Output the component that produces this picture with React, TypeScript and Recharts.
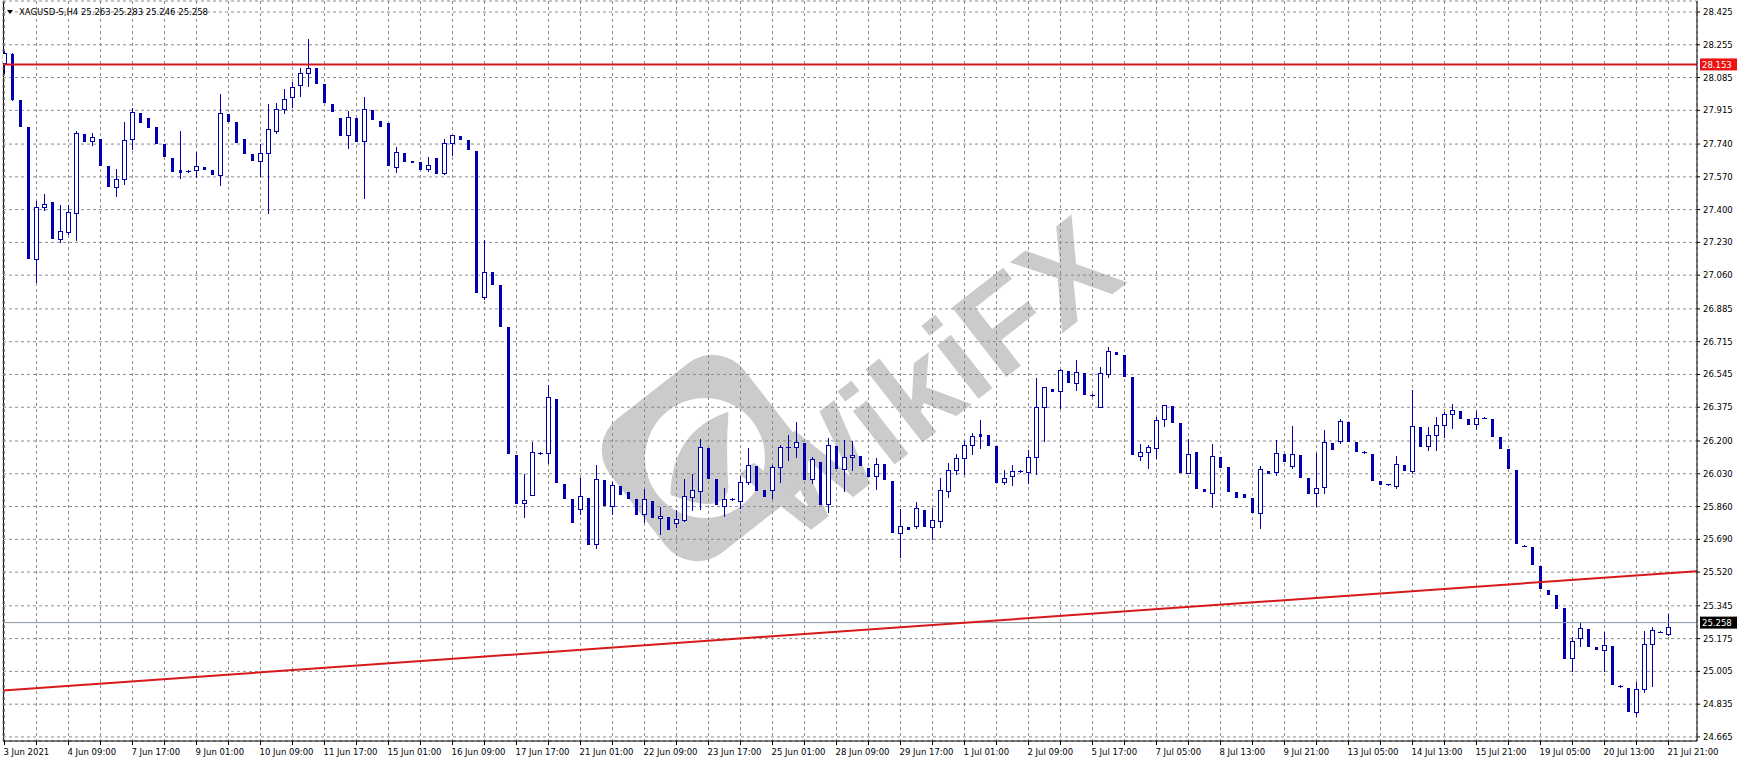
import React from 'react';
import { ComposedChart, Bar, XAxis, YAxis, CartesianGrid, ReferenceLine } from 'recharts';

const CHART_W = 1741;
const CHART_H = 764;
const NAVY = '#0000b0';
const RED = '#d7191c';
const FONT = 'DejaVu Sans, Verdana, sans-serif';

// H4 candles, 3 Jun 2021 01:00 .. 21 Jul 2021 21:00
const opens = [
  28.159, 28.207, 27.969, 27.827, 27.145, 27.415, 27.440, 27.249, 27.284, 27.381,
  27.791, 27.754, 27.766, 27.626, 27.519, 27.557, 27.765, 27.899, 27.874, 27.827,
  27.740, 27.668, 27.604, 27.599, 27.604, 27.621, 27.604, 27.581, 27.894, 27.853,
  27.766, 27.687, 27.654, 27.692, 27.809, 27.923, 27.986, 28.045, 28.110, 28.133,
  28.052, 27.948, 27.875, 27.785, 27.875, 27.754, 27.917, 27.860, 27.849, 27.623,
  27.694, 27.650, 27.645, 27.609, 27.668, 27.588, 27.744, 27.782, 27.761, 27.704,
  26.945, 27.075, 27.009, 26.790, 26.126, 25.877, 25.918, 26.140, 26.136, 26.416,
  25.975, 25.899, 25.846, 25.904, 25.664, 25.998, 25.864, 25.965, 25.935, 25.899,
  25.820, 25.889, 25.799, 25.806, 25.776, 25.790, 25.911, 25.939, 26.164, 26.003,
  25.864, 25.899, 25.890, 25.986, 26.070, 25.946, 25.944, 26.063, 26.167, 26.167,
  26.190, 26.001, 26.089, 25.872, 26.174, 26.056, 26.115, 26.122, 26.058, 26.018,
  26.081, 25.991, 25.721, 25.755, 25.761, 25.840, 25.752, 25.787, 25.942, 26.048,
  26.112, 26.181, 26.235, 26.231, 26.174, 25.986, 26.018, 26.046, 26.041, 26.115,
  26.375, 26.470, 26.458, 26.563, 26.499, 26.553, 26.438, 26.378, 26.546, 26.660,
  26.646, 26.532, 26.124, 26.144, 26.165, 26.312, 26.381, 26.293, 26.035, 26.143,
  25.951, 25.932, 26.118, 26.065, 25.935, 25.925, 25.904, 25.825, 26.044, 26.038,
  26.133, 26.072, 26.126, 26.010, 25.929, 25.960, 26.188, 26.200, 26.297, 26.193,
  26.143, 26.133, 25.992, 25.975, 25.968, 26.074, 26.046, 26.271, 26.172, 26.229,
  26.281, 26.338, 26.354, 26.314, 26.287, 26.321, 26.314, 26.221, 26.158, 26.050,
  25.657, 25.650, 25.552, 25.427, 25.401, 25.334, 25.073, 25.177, 25.226, 25.132,
  25.114, 25.135, 24.929, 24.917, 24.795, 24.912, 25.145, 25.211, 25.200,
];
const highs = [
  28.224, 28.210, 27.969, 27.827, 27.445, 27.481, 27.440, 27.424, 27.424, 27.810,
  27.791, 27.796, 27.766, 27.626, 27.611, 27.854, 27.926, 27.899, 27.874, 27.827,
  27.740, 27.668, 27.808, 27.603, 27.697, 27.621, 27.604, 28.000, 27.894, 27.853,
  27.766, 27.687, 27.740, 27.948, 27.955, 28.024, 28.062, 28.133, 28.285, 28.133,
  28.052, 27.948, 27.875, 27.911, 27.875, 27.983, 27.917, 27.860, 27.849, 27.723,
  27.694, 27.652, 27.645, 27.671, 27.668, 27.768, 27.785, 27.782, 27.761, 27.704,
  27.242, 27.075, 27.009, 26.790, 26.126, 26.029, 26.195, 26.145, 26.489, 26.416,
  25.975, 25.899, 26.010, 25.904, 26.074, 25.998, 25.987, 25.965, 25.935, 25.899,
  25.949, 25.889, 25.859, 25.806, 25.842, 26.003, 26.027, 26.209, 26.164, 26.003,
  25.955, 25.903, 26.020, 26.162, 26.070, 25.946, 26.075, 26.179, 26.231, 26.297,
  26.190, 26.115, 26.089, 26.214, 26.174, 26.205, 26.201, 26.122, 26.058, 26.112,
  26.081, 25.991, 25.846, 25.755, 25.885, 25.840, 25.851, 26.006, 26.087, 26.132,
  26.201, 26.243, 26.309, 26.231, 26.174, 26.048, 26.074, 26.050, 26.153, 26.525,
  26.478, 26.470, 26.572, 26.563, 26.620, 26.553, 26.442, 26.585, 26.689, 26.660,
  26.646, 26.532, 26.184, 26.178, 26.323, 26.385, 26.381, 26.293, 26.210, 26.143,
  25.951, 26.184, 26.118, 26.065, 25.935, 25.925, 25.904, 26.070, 26.044, 26.205,
  26.133, 26.278, 26.126, 26.010, 26.136, 26.255, 26.188, 26.312, 26.297, 26.193,
  26.147, 26.133, 25.992, 25.979, 26.122, 26.074, 26.464, 26.271, 26.274, 26.323,
  26.350, 26.393, 26.354, 26.314, 26.354, 26.325, 26.314, 26.221, 26.158, 26.050,
  25.661, 25.650, 25.552, 25.427, 25.401, 25.334, 25.182, 25.257, 25.226, 25.132,
  25.208, 25.135, 24.933, 24.917, 24.952, 25.214, 25.235, 25.215, 25.301,
];
const lows = [
  28.107, 27.970, 27.834, 27.149, 27.026, 27.398, 27.253, 27.230, 27.274, 27.242,
  27.756, 27.735, 27.633, 27.524, 27.472, 27.531, 27.714, 27.856, 27.830, 27.747,
  27.680, 27.602, 27.566, 27.595, 27.569, 27.612, 27.586, 27.529, 27.861, 27.752,
  27.695, 27.657, 27.574, 27.381, 27.796, 27.903, 27.934, 27.991, 28.041, 28.058,
  27.960, 27.913, 27.789, 27.721, 27.758, 27.462, 27.868, 27.835, 27.633, 27.593,
  27.654, 27.645, 27.612, 27.602, 27.592, 27.585, 27.683, 27.768, 27.716, 26.974,
  26.935, 27.016, 26.798, 26.136, 25.880, 25.807, 25.918, 26.135, 26.088, 25.986,
  25.906, 25.781, 25.821, 25.667, 25.643, 25.868, 25.820, 25.927, 25.906, 25.823,
  25.781, 25.806, 25.716, 25.745, 25.752, 25.785, 25.842, 25.846, 26.010, 25.875,
  25.812, 25.895, 25.851, 25.975, 25.946, 25.916, 25.906, 25.987, 26.101, 26.115,
  26.004, 25.984, 25.875, 25.833, 26.061, 25.942, 26.049, 26.077, 26.020, 25.949,
  26.001, 25.726, 25.597, 25.742, 25.750, 25.759, 25.692, 25.755, 25.911, 26.029,
  26.029, 26.132, 26.162, 26.181, 25.989, 25.978, 25.973, 26.040, 25.981, 26.027,
  26.201, 26.458, 26.369, 26.504, 26.464, 26.445, 26.434, 26.378, 26.530, 26.653,
  26.539, 26.134, 26.101, 26.061, 26.113, 26.279, 26.300, 26.041, 26.032, 25.958,
  25.942, 25.859, 26.066, 25.941, 25.911, 25.911, 25.832, 25.750, 26.035, 26.025,
  26.098, 26.061, 26.015, 25.932, 25.864, 25.932, 26.160, 26.191, 26.201, 26.150,
  26.139, 26.000, 25.978, 25.971, 25.955, 26.051, 26.032, 26.176, 26.152, 26.152,
  26.221, 26.269, 26.321, 26.290, 26.264, 26.317, 26.227, 26.165, 26.062, 25.669,
  25.653, 25.560, 25.439, 25.408, 25.335, 25.076, 25.007, 25.138, 25.138, 25.120,
  25.007, 24.938, 24.925, 24.799, 24.775, 24.896, 24.929, 25.207, 25.192,
];
const closes = [
  28.211, 27.974, 27.834, 27.149, 27.415, 27.429, 27.253, 27.288, 27.386, 27.796,
  27.756, 27.778, 27.633, 27.524, 27.557, 27.760, 27.905, 27.856, 27.830, 27.747,
  27.680, 27.602, 27.597, 27.599, 27.625, 27.612, 27.586, 27.900, 27.861, 27.752,
  27.695, 27.657, 27.692, 27.817, 27.923, 27.972, 28.038, 28.110, 28.136, 28.058,
  27.960, 27.913, 27.789, 27.879, 27.758, 27.920, 27.868, 27.835, 27.633, 27.697,
  27.654, 27.647, 27.612, 27.630, 27.592, 27.744, 27.785, 27.768, 27.716, 26.974,
  27.078, 27.016, 26.798, 26.136, 25.880, 25.892, 26.141, 26.138, 26.427, 25.986,
  25.906, 25.781, 25.913, 25.667, 26.001, 25.868, 25.970, 25.927, 25.906, 25.823,
  25.898, 25.806, 25.811, 25.745, 25.794, 25.913, 25.944, 26.167, 26.010, 25.875,
  25.898, 25.899, 25.986, 26.074, 25.946, 25.916, 26.063, 26.167, 26.167, 26.193,
  26.004, 26.105, 25.875, 26.178, 26.061, 26.117, 26.127, 26.077, 26.020, 26.082,
  26.001, 25.726, 25.761, 25.742, 25.851, 25.759, 25.789, 25.944, 26.048, 26.110,
  26.181, 26.224, 26.227, 26.181, 25.989, 26.006, 26.046, 26.044, 26.115, 26.375,
  26.478, 26.458, 26.567, 26.504, 26.556, 26.445, 26.438, 26.551, 26.665, 26.653,
  26.539, 26.134, 26.141, 26.169, 26.307, 26.385, 26.300, 26.041, 26.131, 25.958,
  25.942, 26.120, 26.066, 25.941, 25.911, 25.911, 25.832, 26.053, 26.035, 26.136,
  26.098, 26.131, 26.015, 25.932, 25.955, 26.195, 26.160, 26.302, 26.201, 26.150,
  26.143, 26.000, 25.978, 25.975, 26.079, 26.051, 26.276, 26.176, 26.229, 26.281,
  26.340, 26.359, 26.321, 26.290, 26.318, 26.321, 26.227, 26.165, 26.062, 25.669,
  25.657, 25.560, 25.439, 25.408, 25.335, 25.076, 25.161, 25.228, 25.138, 25.120,
  25.140, 24.938, 24.929, 24.799, 24.912, 25.145, 25.218, 25.211, 25.237,
];

const timeLabels = [
  '3 Jun 2021', '4 Jun 09:00', '7 Jun 17:00', '9 Jun 01:00', '10 Jun 09:00', '11 Jun 17:00',
  '15 Jun 01:00', '16 Jun 09:00', '17 Jun 17:00', '21 Jun 01:00', '22 Jun 09:00', '23 Jun 17:00',
  '25 Jun 01:00', '28 Jun 09:00', '29 Jun 17:00', '1 Jul 01:00', '2 Jul 09:00', '5 Jul 17:00',
  '7 Jul 05:00', '8 Jul 13:00', '9 Jul 21:00', '13 Jul 05:00', '14 Jul 13:00', '15 Jul 21:00',
  '19 Jul 05:00', '20 Jul 13:00', '21 Jul 21:00',
];

const priceTicks = [
  28.425, 28.255, 28.085, 27.915, 27.74, 27.57, 27.4, 27.23, 27.06, 26.885, 26.715, 26.545,
  26.375, 26.2, 26.03, 25.86, 25.69, 25.52, 25.345, 25.175, 25.005, 24.835, 24.665,
];

const title = 'XAGUSD-S,H4  25.263 25.283 25.246 25.258';
const resistanceLevel = 28.153;
const bidLevel = 25.258;
const trendStart = { i: -0.1875, p: 24.906 };
const trendEnd = { i: 211.5625, p: 25.525 };

const X_DOMAIN: [number, number] = [-0.1875, 211.5625];
const Y_DOMAIN: [number, number] = [24.644, 28.482];

const data = opens.map((o, i) => ({ i, o, h: highs[i], l: lows[i], c: closes[i] }));
const xTicks: number[] = [];
timeLabels.forEach((_, j) => {
  xTicks.push(j * 8);
  if (j < timeLabels.length - 1) xTicks.push(j * 8 + 4);
});

const Candle = (props: any) => {
  const { x, y, width, height, payload } = props;
  if (x == null || y == null || !payload) return null;
  const { o, h, l, c } = payload;
  const rng = h - l;
  const py = (v: number) => (rng > 0 ? y + ((h - v) / rng) * height : y);
  const n = Math.floor(x + width / 2);
  const yh = Math.round(py(h));
  const yl = Math.round(py(l));
  const yo = Math.round(py(o));
  const yc = Math.round(py(c));
  const wick = <line x1={n + 0.5} x2={n + 0.5} y1={yh} y2={yl + 1} stroke={NAVY} strokeWidth={1} />;
  if (c > o && yo - yc >= 2) {
    return (
      <g>
        {wick}
        <rect x={n - 1.5} y={yc + 0.5} width={4} height={yo - yc} fill="#ffffff" stroke={NAVY} strokeWidth={1} />
      </g>
    );
  }
  if (c < o && yc - yo >= 1) {
    return (
      <g>
        {wick}
        <rect x={n - 1} y={yo} width={3} height={yc - yo + 1} fill={NAVY} />
      </g>
    );
  }
  const top = Math.min(yo, yc);
  return (
    <g>
      {wick}
      <rect x={n - 2} y={top} width={5} height={Math.max(1, Math.abs(yo - yc) + 1)} fill={NAVY} />
    </g>
  );
};

const TimeTick = (props: any) => {
  const { x, y, payload } = props;
  const idx = payload.value as number;
  if (idx % 8 !== 0) return null;
  const label = timeLabels[idx / 8];
  return (
    <text x={x - 1} y={y + 8} fontSize={8.5} fontFamily={FONT} fill="#000" textAnchor="start">
      {label}
    </text>
  );
};

const PriceTick = (props: any) => {
  const { x, y, payload } = props;
  return (
    <text x={x} y={y + 3} fontSize={8.5} fontFamily={FONT} fill="#000" textAnchor="start">
      {Number(payload.value).toFixed(3)}
    </text>
  );
};

const makeTag = (value: number, bg: string) => (props: any) => {
  const vb = props.viewBox || {};
  const left = (vb.x || 0) + (vb.width || 0) + 3;
  const cy = vb.y || 0;
  return (
    <g>
      <rect x={left} y={cy - 6} width={37} height={12} fill={bg} />
      <text x={left + 2} y={cy + 3.5} fontSize={8.5} fontFamily={FONT} fill="#fff" textAnchor="start">
        {value.toFixed(3)}
      </text>
    </g>
  );
};

const Watermark = () => (
  <svg width={CHART_W} height={CHART_H} style={{ position: 'absolute', left: 0, top: 0 }}>
    <g transform="rotate(-38 705 458)">
      <rect x={620} y={373} width={170} height={170} rx={40} fill="#cbcbcb" />
      <circle cx={705} cy={458} r={60} fill="#ffffff" />
      <path d="M 655 466 Q 695 416 752 436 Q 725 466 705 496 Q 685 516 655 466 Z" fill="#cbcbcb" />
    </g>
    <text
      x={940}
      y={386}
      transform="rotate(-38 940 386)"
      fontSize={128}
      fontWeight="bold"
      fontFamily="Liberation Sans, Arial, sans-serif"
      fill="#cbcbcb"
      textAnchor="middle"
      dominantBaseline="middle"
    >
      WikiFX
    </text>
  </svg>
);

export default function App() {
  return (
    <div style={{ position: 'absolute', left: 0, top: 0, width: CHART_W, height: CHART_H, background: '#ffffff', overflow: 'hidden' }}>
      <Watermark />
      <svg width={CHART_W} height={CHART_H} style={{ position: 'absolute', left: 0, top: 0 }}>
        <line x1={3.5} x2={3.5} y1={1} y2={741} stroke="#000" strokeWidth={1} />
      </svg>
      <div style={{ position: 'absolute', left: 0, top: 0 }}>
        <ComposedChart width={CHART_W} height={CHART_H} data={data} margin={{ top: 1, right: 0, bottom: 0, left: 3 }}>
          <CartesianGrid stroke="#8c8c8c" strokeDasharray="3 3" strokeWidth={1} />
          <XAxis
            dataKey="i"
            type="number"
            domain={X_DOMAIN}
            allowDataOverflow
            ticks={xTicks}
            interval={0}
            height={23}
            tickSize={4}
            tickMargin={2}
            tick={<TimeTick />}
            stroke="#000"
            axisLine={{ stroke: '#000' }}
            tickLine={{ stroke: '#000' }}
          />
          <YAxis
            orientation="right"
            type="number"
            domain={Y_DOMAIN}
            allowDataOverflow
            ticks={priceTicks}
            interval={0}
            width={44}
            tickSize={3}
            tickMargin={3}
            tick={<PriceTick />}
            axisLine={{ stroke: '#000' }}
            tickLine={{ stroke: '#000' }}
          />
          <ReferenceLine y={bidLevel} stroke="#8a96a4" strokeWidth={1} label={makeTag(bidLevel, '#000000')} />
          <ReferenceLine y={resistanceLevel} stroke={RED} strokeWidth={2} label={makeTag(resistanceLevel, '#ee1111')} />
          <ReferenceLine
            segment={[{ x: trendStart.i, y: trendStart.p }, { x: trendEnd.i, y: trendEnd.p }]}
            stroke={RED}
            strokeWidth={2}
          />
          <Bar dataKey={(d: any) => [d.l, d.h]} barSize={6} isAnimationActive={false} shape={Candle} />
        </ComposedChart>
      </div>
      <svg width={CHART_W} height={30} style={{ position: 'absolute', left: 0, top: 0 }}>
        <path d="M 7 10 L 13 10 L 10 14 Z" fill="#000" />
        <text x={19} y={15} fontSize={8.5} fontFamily={FONT} fill="#000">{title}</text>
      </svg>
    </div>
  );
}
